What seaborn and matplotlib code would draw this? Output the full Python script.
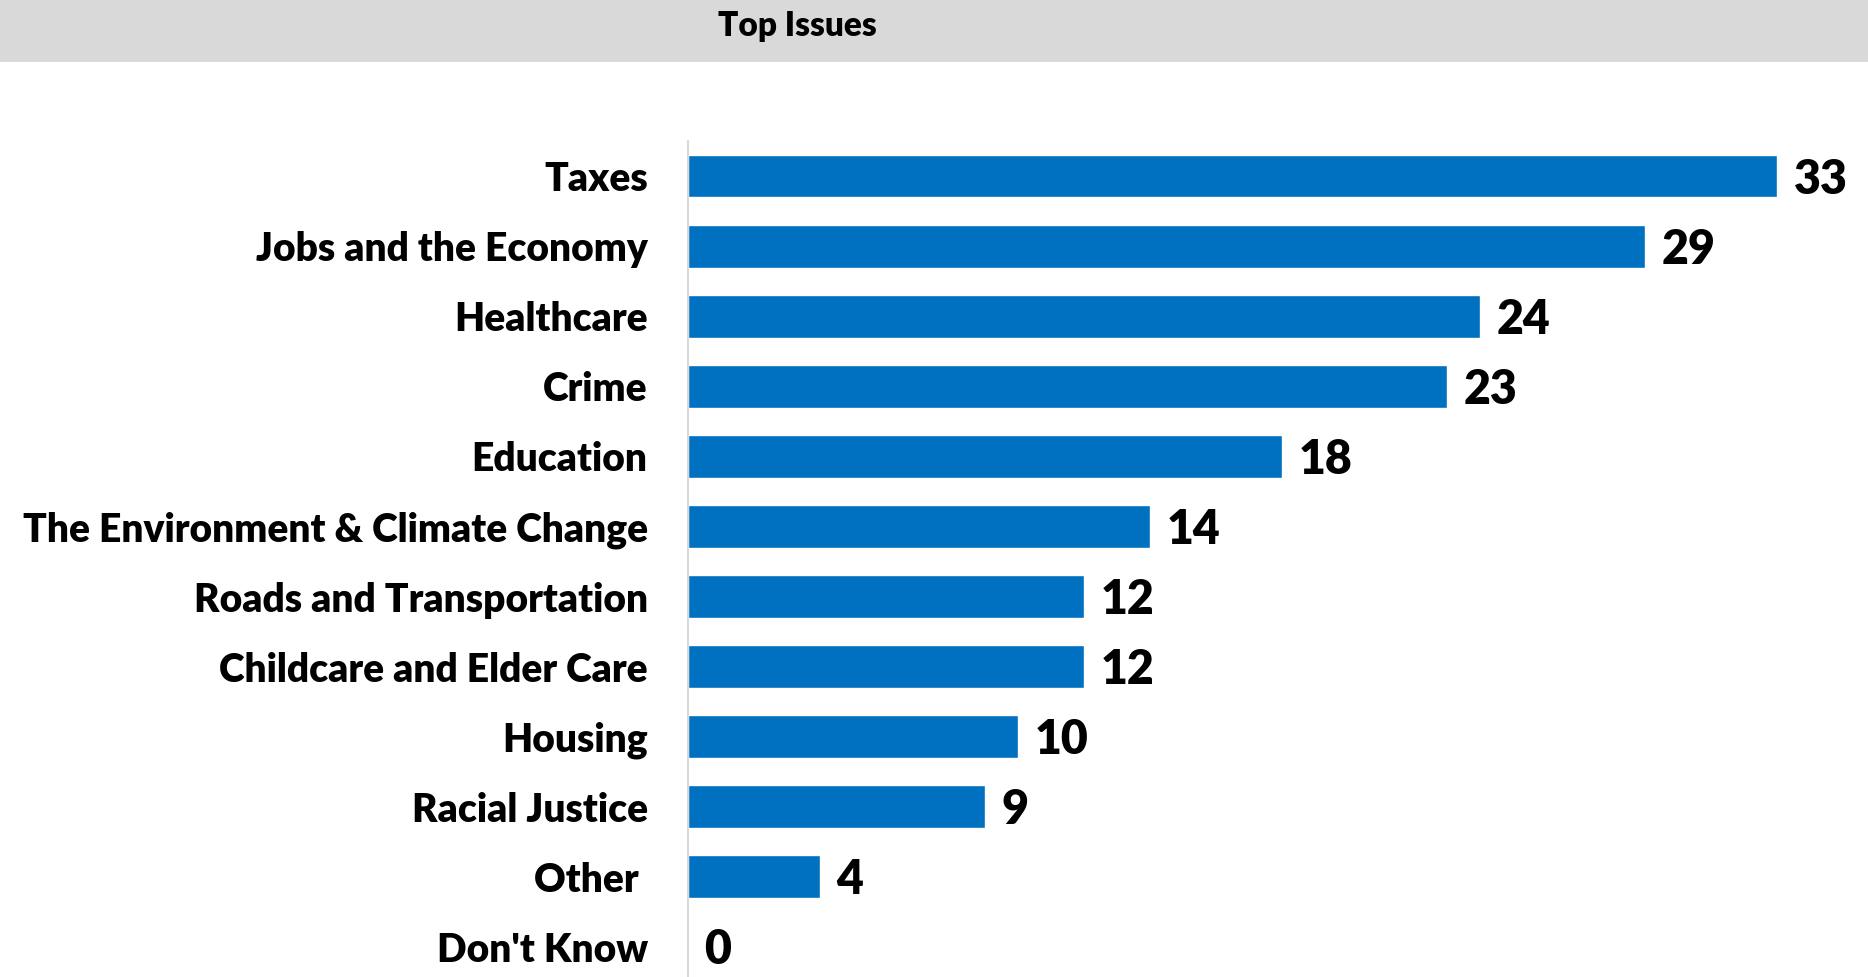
import matplotlib
matplotlib.use("Agg")
import matplotlib.pyplot as plt
import seaborn as sns
import pandas as pd
from matplotlib.patches import Rectangle

categories = ["Taxes", "Jobs and the Economy", "Healthcare", "Crime", "Education",
              "The Environment & Climate Change", "Roads and Transportation",
              "Childcare and Elder Care", "Housing", "Racial Justice", "Other ",
              "Don't Know"]
values = [33, 29, 24, 23, 18, 14, 12, 12, 10, 9, 4, 0]
title = "Top Issues"

sns.set_theme(style="white")
plt.rcParams['font.family'] = ['Lato', 'DejaVu Sans']

W, H = 1868, 977
fig = plt.figure(figsize=(W / 100, H / 100), dpi=100)

# header band
fig.patches.append(Rectangle((0, 1 - 62 / H), 1, 62 / H, transform=fig.transFigure,
                             facecolor="#D9D9D9", edgecolor="none", zorder=0))
fig.text(797 / W, 1 - 26 / H, title, ha="center", va="center", fontsize=24,
         fontweight="heavy", color="black")

ax_left, ax_top, ax_bot = 688, 141, 982
ax = fig.add_axes([ax_left / W, (H - ax_bot) / H, (1868 - ax_left) / W, (ax_bot - ax_top) / H])

df = pd.DataFrame({"cat": categories, "val": values})
sns.barplot(data=df, x="val", y="cat", orient="h", color="#0070C0", saturation=1,
            width=0.61, ax=ax)

ax.set_xlim(0, (1868 - ax_left) / 33.0)
ax.set_ylim(len(categories) - 0.5, -0.5)
ax.set_xlabel("")
ax.set_ylabel("")
ax.set_xticks([])
for s in ["top", "right", "bottom"]:
    ax.spines[s].set_visible(False)
ax.spines["left"].set_color("#D9D9D9")
ax.spines["left"].set_linewidth(1.5)
ax.tick_params(axis="y", length=0, pad=29, labelsize=28.1)
for lab in ax.get_yticklabels():
    lab.set_fontweight("heavy")
    lab.set_color("black")

for i, v in enumerate(values):
    ax.text(v + 0.5, i + 0.05, f"{v}", va="center", ha="left", fontsize=33.5,
            fontweight="heavy", color="black")

fig.savefig("out.png", dpi=100)
